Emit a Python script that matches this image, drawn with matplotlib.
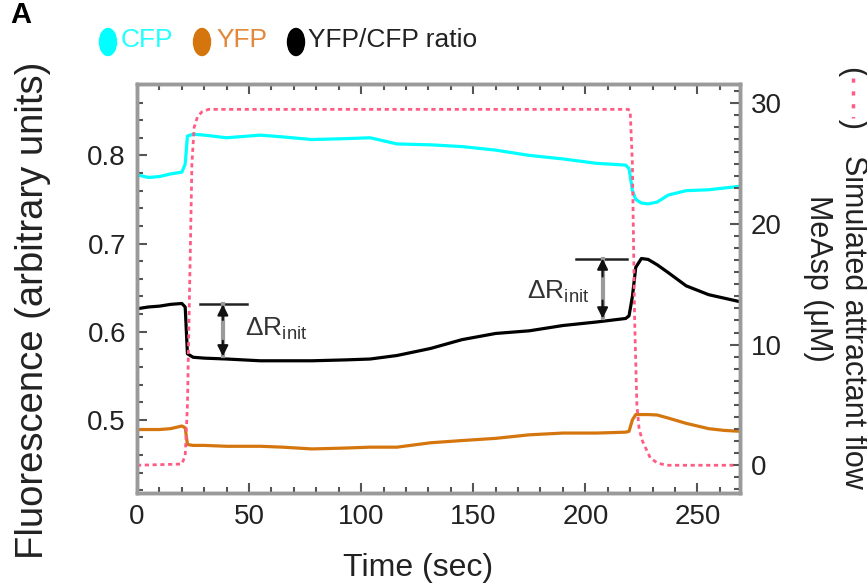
import matplotlib.pyplot as plt
from matplotlib.patches import Ellipse
from matplotlib.lines import Line2D
from matplotlib.ticker import MultipleLocator

# time axis shared by the three fluorescence traces (sec)
time_s = [0, 5, 10, 15, 20, 21.5, 22.5, 25, 30, 40, 55, 65, 78, 93, 104, 116, 131,
          145, 160, 175, 190, 205, 218, 219.5, 221, 222.5, 225, 228, 232, 237, 245,
          255, 262, 269]

cfp = [0.778, 0.775, 0.776, 0.779, 0.781, 0.790, 0.822, 0.824, 0.823, 0.820, 0.823,
       0.821, 0.818, 0.819, 0.820, 0.813, 0.812, 0.810, 0.806, 0.800, 0.796, 0.791,
       0.789, 0.785, 0.760, 0.750, 0.746, 0.745, 0.747, 0.755, 0.760, 0.761, 0.763,
       0.765]

ratio = [0.626, 0.628, 0.629, 0.631, 0.632, 0.628, 0.575, 0.571, 0.570, 0.569, 0.567,
         0.567, 0.567, 0.568, 0.569, 0.573, 0.581, 0.591, 0.598, 0.601, 0.607, 0.611,
         0.615, 0.618, 0.640, 0.673, 0.683, 0.682, 0.676, 0.667, 0.652, 0.642, 0.638,
         0.634]

yfp = [0.489, 0.489, 0.489, 0.490, 0.493, 0.491, 0.472, 0.471, 0.471, 0.470, 0.470,
       0.469, 0.467, 0.468, 0.469, 0.469, 0.474, 0.4765, 0.479, 0.483, 0.485, 0.485,
       0.486, 0.487, 0.500, 0.506, 0.506, 0.506, 0.5055, 0.502, 0.496, 0.490, 0.488,
       0.487]

# simulated MeAsp flow (uM), right axis
flow_t = [0, 20, 21.5, 22.5, 23.5, 24.5, 25.5, 27, 29, 32, 219, 220, 221, 222, 223,
          224, 225.5, 227, 229, 232, 236, 266]
flow_uM = [0, 0.1, 0.8, 5, 15, 25, 28, 28.9, 29.3, 29.5, 29.5, 29.4, 25, 12, 5, 3,
           2, 1.4, 0.6, 0.2, 0, 0]

c_cfp = '#00ffff'
c_yfp = '#d4760d'
c_ratio = '#000000'
c_flow = '#ff5c85'

plt.rcParams['font.family'] = ['Liberation Sans', 'DejaVu Sans']
plt.rcParams['mathtext.fontset'] = 'custom'
plt.rcParams['mathtext.rm'] = 'Liberation Sans'

W, H = 867, 587
fig = plt.figure(figsize=(W / 100, H / 100), dpi=100)
ax = fig.add_axes([137 / W, 1 - 493 / H, (740 - 137) / W, (493 - 84) / H])
ax2 = ax.twinx()

ax.plot(time_s, cfp, color=c_cfp, lw=2.3)
ax.plot(time_s, yfp, color=c_yfp, lw=2.3)
ax.plot(time_s, ratio, color=c_ratio, lw=2.3)
ax2.plot(flow_t, flow_uM, color=c_flow, lw=2.0, linestyle=(0, (1.5, 1.3)))

ax.set_xlim(0, 269)
ax.set_ylim(0.417, 0.881)
ax2.set_ylim(-2.3, 31.6)

ax.xaxis.set_major_locator(MultipleLocator(50))
ax.xaxis.set_minor_locator(MultipleLocator(10))
ax.yaxis.set_major_locator(MultipleLocator(0.1))
ax.yaxis.set_minor_locator(MultipleLocator(0.02))
ax2.yaxis.set_major_locator(MultipleLocator(10))
ax2.yaxis.set_minor_locator(MultipleLocator(1))

for a in (ax, ax2):
    for sp in a.spines.values():
        sp.set_color('#9a9a9a')
        sp.set_linewidth(2.5)
    a.tick_params(which='both', direction='in', color='#555555', width=1.5,
                  labelsize=20, labelcolor='#222222', pad=8)
    a.tick_params(which='major', length=7)
    a.tick_params(which='minor', length=4.5)
ax.tick_params(which='both', top=True, right=False)
ax.set_yticks([0.5, 0.6, 0.7, 0.8])
ax.set_yticklabels(['0.5', '0.6', '0.7', '0.8'])

# delta R annotations: black bar, gray shaft, black heads
def delta_r(x0, x1, xa, y_top, y_bot, tx, ty, ha):
    ax.plot([x0, x1], [y_top, y_top], color='#222222', lw=1.8)
    ax.plot([xa, xa], [y_top, y_bot], color='#9a9a9a', lw=3)
    head = dict(arrowstyle='-|>', color='#111111', lw=1.5,
                mutation_scale=16, shrinkA=0, shrinkB=0)
    span = y_top - y_bot
    ax.annotate('', xy=(xa, y_top), xytext=(xa, y_top - 0.3 * span), arrowprops=head)
    ax.annotate('', xy=(xa, y_bot), xytext=(xa, y_bot + 0.3 * span), arrowprops=head)
    ax.text(tx, ty, 'ΔR$_{\\mathregular{init}}$', fontsize=19, color='#333333',
            ha=ha, va='baseline')

delta_r(28, 49, 38.3, 0.631, 0.572, 48, 0.5955, 'left')
delta_r(196, 218.4, 207.7, 0.683, 0.615, 202, 0.638, 'right')

# axis labels
fig.text(33 / W, 1 - 310 / H, 'Fluorescence (arbitrary units)', rotation=90,
         ha='center', va='center', fontsize=27.5, color='#222222')
fig.text(418 / W, 1 - 568 / H, 'Time (sec)', ha='center', va='center',
         fontsize=23, color='#222222')
fig.text(853 / W, 1 - 322 / H, 'Simulated attractant flow', rotation=-90,
         ha='center', va='center', fontsize=22, color='#222222')
fig.text(818 / W, 1 - 278 / H, 'MeAsp (μM)', rotation=-90,
         ha='center', va='center', fontsize=22, color='#222222')
fig.text(853 / W, 1 - 97 / H, '(     )', rotation=-90,
         ha='center', va='center', fontsize=22, color='#222222')
fig.add_artist(Line2D([853 / W, 853 / W], [1 - 78 / H, 1 - 118 / H],
                      transform=fig.transFigure, color=c_flow, lw=2.5,
                      linestyle=(0, (1.2, 2.5))))

# legend on top
legend_items = [(108, 121, 'CFP', c_cfp, '#22ffff'),
                (202, 216, 'YFP', c_yfp, '#e3883a'),
                (296, 308, 'YFP/CFP ratio', c_ratio, '#222222')]
for cx, tx, label, col, tcol in legend_items:
    fig.add_artist(Ellipse((cx / W, 1 - 42 / H), 17 / W, 27 / H,
                           transform=fig.transFigure, color=col))
    fig.text(tx / W, 1 - 40 / H, label, ha='left', va='center',
             fontsize=19, color=tcol,
             family=['Liberation Sans Narrow', 'Liberation Sans'])

fig.text(10 / W, 1 - 15 / H, 'A', ha='left', va='center', fontsize=21,
         fontweight='bold')

fig.savefig('out.png', dpi=100)
